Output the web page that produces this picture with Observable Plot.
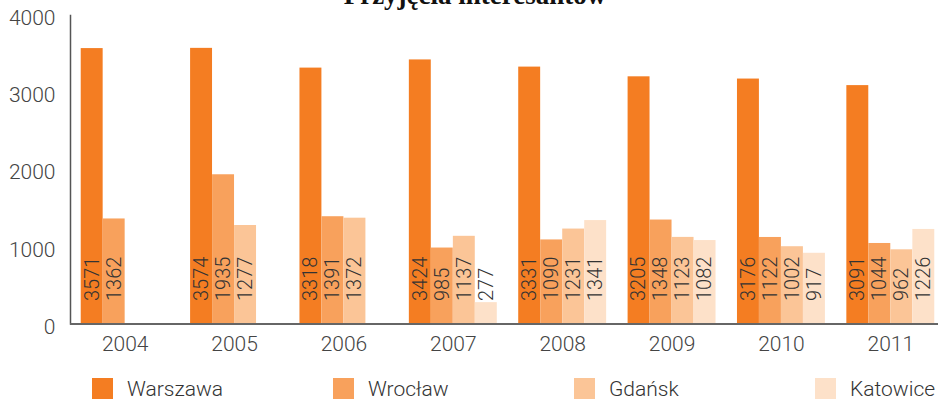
<!DOCTYPE html>
<html>
<head>
<meta charset="utf-8">
<script src="https://cdn.jsdelivr.net/npm/d3@7"></script>
<script src="https://cdn.jsdelivr.net/npm/@observablehq/plot@0.6"></script>
<style>
  html, body { margin: 0; padding: 0; background: #fff; overflow: hidden; }
  #wrap { position: relative; width: 938px; height: 400px; }
  #title { position: absolute; left: 0; width: 950px; top: -18px; text-align: center;
    font-family: "Liberation Serif", serif; font-weight: bold; font-size: 27px; line-height: 27px; color: #111; }
  #chart { position: absolute; left: 0; top: 0; }
  #legend { position: absolute; left: 92px; top: 378px; display: flex;
    font-family: Roboto, "Liberation Sans", sans-serif; font-weight: 300; font-size: 21px; color: #333; }
  .item { display: flex; align-items: center; width: 241px; height: 21px; }
  .sw { width: 21px; height: 21px; margin-right: 14px; flex: none; }
</style>
</head>
<body>
<div id="wrap">
  <div id="chart"></div>
  <div id="title">Przyjęcia interesantów</div>
  <div id="legend"></div>
</div>
<script>
const years = ["2004", "2005", "2006", "2007", "2008", "2009", "2010", "2011"];
const seriesNames = ["Warszawa", "Wrocław", "Gdańsk", "Katowice"];
const warszawa = [3571, 3574, 3318, 3424, 3331, 3205, 3176, 3091];
const wroclaw  = [1362, 1935, 1391, 985, 1090, 1348, 1122, 1044];
const gdansk   = [null, 1277, 1372, 1137, 1231, 1123, 1002, 962];
const katowice = [null, null, null, 277, 1341, 1082, 917, 1226];
const yTicks = [0, 1000, 2000, 3000, 4000];
const colors = ["#F47D22", "#F8A15C", "#FBC597", "#FDE1C9"];

const seriesValues = [warszawa, wroclaw, gdansk, katowice];
const rows = [];
seriesValues.forEach((vals, si) => {
  vals.forEach((v, yi) => {
    if (v != null) rows.push({year: years[yi], series: seriesNames[si], value: v, si});
  });
});

const barW = 22;
const marks = [];
seriesNames.forEach((name, si) => {
  const data = rows.filter(d => d.si === si);
  marks.push(Plot.barY(data, {
    x: "year", y: "value", fill: "series",
    insetLeft: si * barW, insetRight: (3 - si) * barW
  }));
});
seriesNames.forEach((name, si) => {
  const data = rows.filter(d => d.si === si);
  marks.push(Plot.text(data, {
    x: "year", y: () => 0, text: d => String(d.value),
    rotate: -90, textAnchor: "start", lineAnchor: "middle",
    dx: -33 + si * barW, dy: -23,
    fontSize: 20, fill: "#333"
  }));
});
marks.push(Plot.frame({anchor: "left", stroke: "#555", strokeWidth: 1.5}));
marks.push(Plot.ruleY([0], {stroke: "#666", strokeWidth: 2}));
marks.push(Plot.axisY(yTicks, {tickSize: 0, tickPadding: 15, tickFormat: "d", fontSize: 21, fill: "#444", dy: 3}));
marks.push(Plot.axisX({tickSize: 0, tickPadding: 12, fontSize: 21, fill: "#444"}));

const chart = Plot.plot({
  width: 938,
  height: 352,
  marginLeft: 70,
  marginRight: 0,
  marginTop: 15,
  marginBottom: 28.5,
  style: {fontFamily: "Roboto, 'Liberation Sans', sans-serif", fontWeight: 300, background: "transparent", overflow: "visible"},
  x: {domain: years, range: [70, 945], paddingInner: 0.196, paddingOuter: 0.098, round: false, label: null},
  y: {domain: [0, 4000], label: null},
  color: {domain: seriesNames, range: colors},
  marks
});
document.getElementById("chart").appendChild(chart);

const legend = document.getElementById("legend");
seriesNames.forEach((name, i) => {
  const it = document.createElement("div");
  it.className = "item";
  const sw = document.createElement("div");
  sw.className = "sw";
  sw.style.background = colors[i];
  const lab = document.createElement("span");
  lab.textContent = name;
  it.appendChild(sw); it.appendChild(lab);
  legend.appendChild(it);
});
</script>
</body>
</html>
